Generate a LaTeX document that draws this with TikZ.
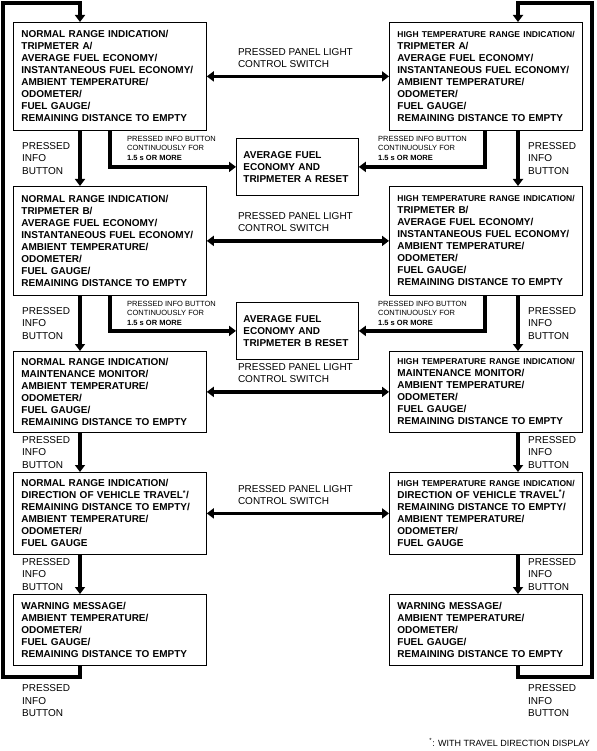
\documentclass[tikz,border=0pt]{standalone}
\usepackage{fontspec}
\setmainfont{Liberation Sans}
\usetikzlibrary{arrows.meta,calc,positioning}
\newcommand{\hightemp}{\mbox{\fontsize{8.5}{12}\selectfont HIGH TEMPERATURE RANGE INDICATION/}\\}

\begin{document}
\begin{tikzpicture}[x=1pt,y=-1pt,
every node/.style={inner sep=0pt},
disp/.style={draw,line width=0.8pt,anchor=north west,align=left,text width=177pt,inner xsep=8pt,
  font=\bfseries\fontsize{10}{12}\selectfont},
resetbox/.style={draw,line width=0.8pt,anchor=north west,align=left,text width=108pt,inner xsep=7pt,
  minimum height=57pt,font=\bfseries\fontsize{10}{12}\selectfont},
flow/.style={line width=3.5pt,-{Triangle[length=7pt,width=10pt]}},
both/.style={line width=3.5pt,{Triangle[length=7pt,width=10pt]}-{Triangle[length=7pt,width=10pt]}},
btn/.style={align=left,font=\fontsize{10}{12.5}\selectfont},
hold/.style={align=left,anchor=north west,font=\fontsize{7.5}{9.5}\selectfont},
sw/.style={align=left,anchor=south west,font=\fontsize{10}{12}\selectfont}]
\useasboundingbox (0,0) rectangle (596,751);

\node[disp,minimum height=108pt] (L1) at (13,22) {NORMAL RANGE INDICATION/\\TRIPMETER A/\\AVERAGE FUEL ECONOMY/\\INSTANTANEOUS FUEL ECONOMY/\\AMBIENT TEMPERATURE/\\ODOMETER/\\FUEL GAUGE/\\REMAINING DISTANCE TO EMPTY};
\node[disp,minimum height=108pt] (R1) at (389,22) {\hightemp TRIPMETER A/\\AVERAGE FUEL ECONOMY/\\INSTANTANEOUS FUEL ECONOMY/\\AMBIENT TEMPERATURE/\\ODOMETER/\\FUEL GAUGE/\\REMAINING DISTANCE TO EMPTY};
\node[disp,minimum height=109pt] (L2) at (13,186) {NORMAL RANGE INDICATION/\\TRIPMETER B/\\AVERAGE FUEL ECONOMY/\\INSTANTANEOUS FUEL ECONOMY/\\AMBIENT TEMPERATURE/\\ODOMETER/\\FUEL GAUGE/\\REMAINING DISTANCE TO EMPTY};
\node[disp,minimum height=109pt] (R2) at (389,186) {\hightemp TRIPMETER B/\\AVERAGE FUEL ECONOMY/\\INSTANTANEOUS FUEL ECONOMY/\\AMBIENT TEMPERATURE/\\ODOMETER/\\FUEL GAUGE/\\REMAINING DISTANCE TO EMPTY};
\node[disp,minimum height=81pt] (L3) at (13,351) {NORMAL RANGE INDICATION/\\MAINTENANCE MONITOR/\\AMBIENT TEMPERATURE/\\ODOMETER/\\FUEL GAUGE/\\REMAINING DISTANCE TO EMPTY};
\node[disp,minimum height=81pt] (R3) at (389,351) {\hightemp MAINTENANCE MONITOR/\\AMBIENT TEMPERATURE/\\ODOMETER/\\FUEL GAUGE/\\REMAINING DISTANCE TO EMPTY};
\node[disp,minimum height=82pt] (L4) at (13,472) {NORMAL RANGE INDICATION/\\DIRECTION OF VEHICLE TRAVEL\textsuperscript{*}/\\REMAINING DISTANCE TO EMPTY/\\AMBIENT TEMPERATURE/\\ODOMETER/\\FUEL GAUGE};
\node[disp,minimum height=82pt] (R4) at (389,472) {\hightemp DIRECTION OF VEHICLE TRAVEL\textsuperscript{*}/\\REMAINING DISTANCE TO EMPTY/\\AMBIENT TEMPERATURE/\\ODOMETER/\\FUEL GAUGE};
\node[disp,minimum height=71pt] (L5) at (13,594) {WARNING MESSAGE/\\AMBIENT TEMPERATURE/\\ODOMETER/\\FUEL GAUGE/\\REMAINING DISTANCE TO EMPTY};
\node[disp,minimum height=71pt] (R5) at (389,594) {WARNING MESSAGE/\\AMBIENT TEMPERATURE/\\ODOMETER/\\FUEL GAUGE/\\REMAINING DISTANCE TO EMPTY};

\node[resetbox] (RA) at (236,138) {AVERAGE FUEL\\ECONOMY AND\\TRIPMETER A RESET};
\node[resetbox] (RB) at (236,302) {AVERAGE FUEL\\ECONOMY AND\\TRIPMETER B RESET};

\coordinate (cBL) at (3,677);
\coordinate (cTL) at (3,3);
\coordinate (cBR) at (592,677);
\coordinate (cTR) at (592,3);

\foreach \a/\b in {1/2,2/3,3/4,4/5}{
  \draw[flow] ([xshift=67pt]L\a.south west) -- ([xshift=67pt]L\b.north west);
  \draw[flow] ([xshift=129pt]R\a.south west) -- ([xshift=129pt]R\b.north west);
  \node[btn,anchor=west] (pL\a) at ($([xshift=9pt]L\a.south west)!0.5!([xshift=9pt]L\b.north west)$) {PRESSED\\INFO\\BUTTON};
  \node[btn,anchor=west] (pR\a) at ($([xshift=139pt]R\a.south west)!0.5!([xshift=139pt]R\b.north west)$) {PRESSED\\INFO\\BUTTON};
}
\draw[flow] ([xshift=67pt]L5.south west) |- (cBL) -- (cTL) -| ([xshift=67pt]L1.north west);
\draw[flow] ([xshift=129pt]R5.south west) |- (cBR) -- (cTR) -| ([xshift=129pt]R1.north west);
\node[btn,anchor=north west] (pL5) at ([xshift=9pt,yshift=-19pt]L5.south west) {PRESSED\\INFO\\BUTTON};
\node[btn,anchor=north west] (pR5) at ([xshift=139pt,yshift=-19pt]R5.south west) {PRESSED\\INFO\\BUTTON};

\foreach \n in {1,2,3,4}{
  \draw[both] (L\n.east) -- (R\n.west);
  \node[sw] (sw\n) at ([xshift=31pt,yshift=9pt]L\n.east) {PRESSED PANEL LIGHT\\CONTROL SWITCH};
}

\foreach \n/\r in {1/RA,2/RB}{
  \draw[flow] ([xshift=97pt]L\n.south west) |- (\r.west);
  \draw[flow] ([xshift=96pt]R\n.south west) |- (\r.east);
  \node[hold] (hL\n) at ([xshift=114pt,yshift=-5pt]L\n.south west) {PRESSED INFO BUTTON\\CONTINUOUSLY FOR\\\textbf{1.5 s OR MORE}};
  \node[hold] (hR\n) at ([xshift=-11pt,yshift=-5pt]R\n.south west) {PRESSED INFO BUTTON\\CONTINUOUSLY FOR\\\textbf{1.5 s OR MORE}};
}

\node[anchor=base east,font=\fontsize{9}{11}\selectfont] (note) at (590,746) {\textsuperscript{*}: WITH TRAVEL DIRECTION DISPLAY};
\end{tikzpicture}
\end{document}
